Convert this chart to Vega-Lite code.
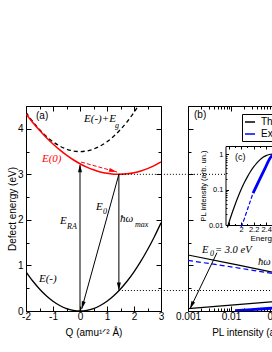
{
"$schema": "https://vega.github.io/schema/vega-lite/v6.json",
"padding": {"left": 6, "top": 100, "right": 0, "bottom": 0},
"bounds": "flush",
"spacing": 27,
"config": {
 "view": {"stroke": "black", "strokeWidth": 1},
 "axis": {"grid": false, "domain": false, "labelFont": "Liberation Sans", "labelFontSize": 10, "labelColor": "black", "titleFont": "Liberation Sans", "titleFontSize": 10, "titleFontWeight": "normal", "titleColor": "black", "tickColor": "black", "tickWidth": 1, "domainColor": "black", "domainWidth": 1, "labelFlush": false, "labelOverlap": false, "labelBound": false},
 "text": {"font": "Liberation Serif", "fontStyle": "italic", "fontSize": 11, "align": "left", "baseline": "middle", "color": "black"}
},
"datasets": {
 "Eminus": [{"Q":-2,"E":0.86},{"Q":-1.75,"E":0.658},{"Q":-1.5,"E":0.484},{"Q":-1.25,"E":0.336},{"Q":-1,"E":0.215},{"Q":-0.75,"E":0.121},{"Q":-0.5,"E":0.054},{"Q":-0.25,"E":0.013},{"Q":0,"E":0},{"Q":0.25,"E":0.013},{"Q":0.5,"E":0.054},{"Q":0.75,"E":0.121},{"Q":1,"E":0.215},{"Q":1.25,"E":0.336},{"Q":1.5,"E":0.484},{"Q":1.75,"E":0.658},{"Q":2,"E":0.86},{"Q":2.25,"E":1.088},{"Q":2.5,"E":1.344},{"Q":2.75,"E":1.626},{"Q":3,"E":1.935}],
 "Ezero": [{"Q":-2,"E":4.325},{"Q":-1.75,"E":4.14},{"Q":-1.5,"E":3.968},{"Q":-1.25,"E":3.81},{"Q":-1,"E":3.667},{"Q":-0.75,"E":3.537},{"Q":-0.5,"E":3.422},{"Q":-0.25,"E":3.32},{"Q":0,"E":3.232},{"Q":0.25,"E":3.159},{"Q":0.5,"E":3.099},{"Q":0.75,"E":3.053},{"Q":1,"E":3.022},{"Q":1.25,"E":3.004},{"Q":1.44,"E":3.0},{"Q":1.75,"E":3.011},{"Q":2,"E":3.035},{"Q":2.25,"E":3.073},{"Q":2.5,"E":3.126},{"Q":2.75,"E":3.192},{"Q":3,"E":3.273}],
 "EminusEg": [{"Q":-2,"E":4.36},{"Q":-1.75,"E":4.158},{"Q":-1.5,"E":3.984},{"Q":-1.25,"E":3.836},{"Q":-1,"E":3.715},{"Q":-0.75,"E":3.621},{"Q":-0.5,"E":3.554},{"Q":-0.25,"E":3.513},{"Q":0,"E":3.5},{"Q":0.25,"E":3.513},{"Q":0.5,"E":3.554},{"Q":0.75,"E":3.621},{"Q":1,"E":3.715},{"Q":1.25,"E":3.836},{"Q":1.5,"E":3.984},{"Q":1.75,"E":4.158},{"Q":2,"E":4.36},{"Q":2.25,"E":4.588}],
 "dottedA": [{"level":"E0","Q":1.44,"E":3.0},{"level":"E0","Q":4,"E":3.0},{"level":"low","Q":1.44,"E":0.45},{"level":"low","Q":4,"E":0.45}],
 "arrowsA": [{"arrow":"ERA","Q":0,"E":0},{"arrow":"ERA","Q":0,"E":3.2},{"arrow":"E0","Q":1.44,"E":3.0},{"arrow":"E0","Q":0.06,"E":0.04},{"arrow":"hw","Q":1.44,"E":3.0},{"arrow":"hw","Q":1.44,"E":0.47}],
 "redArrow": [{"Q":0.04,"E":3.27},{"Q":1.37,"E":3.05}],
 "headsA": [{"head":"ERA","Q":0,"E":3.22},{"head":"E0","Q":0.06,"E":0.04},{"head":"hw","Q":1.44,"E":0.45},{"head":"red","Q":1.37,"E":3.05}],
 "textA": [{"label":"E(-)+E","Q":0.15,"E":4.21},{"label":"E(-)","Q":-1.52,"E":0.70},{"label":"E","Q":-0.74,"E":1.98},{"label":"E","Q":0.59,"E":2.29},{"label":"ħω","Q":1.48,"E":2.03}],
 "subA": [{"label":"g","Q":1.30,"E":4.06},{"label":"RA","Q":-0.48,"E":1.85},{"label":"0","Q":0.85,"E":2.18},{"label":"max","Q":2.04,"E":1.89}],
 "redTextA": [{"label":"E(0)","Q":-1.41,"E":3.33}],
 "panelA": [{"label":"(a)","Q":-1.63,"E":4.27}],
 "spectraB": [
  {"series":"Theory","part":"up","I":0.001,"E":1.23},{"series":"Theory","part":"up","I":0.01,"E":1.04},{"series":"Theory","part":"up","I":0.085,"E":0.86},{"series":"Theory","part":"up","I":0.3,"E":0.75},
  {"series":"Theory","part":"low","I":0.001,"E":0.05},{"series":"Theory","part":"low","I":0.01,"E":0.13},{"series":"Theory","part":"low","I":0.085,"E":0.2},{"series":"Theory","part":"low","I":0.3,"E":0.24}],
 "expDashB": [{"series":"Experiment","I":0.001,"E":1.11},{"series":"Experiment","I":0.01,"E":0.97},{"series":"Experiment","I":0.085,"E":0.83},{"series":"Experiment","I":0.3,"E":0.75}],
 "expThickB": [{"series":"Experiment","I":0.0124,"E":0.007},{"series":"Experiment","I":0.03,"E":0.03},{"series":"Experiment","I":0.085,"E":0.06},{"series":"Experiment","I":0.3,"E":0.09}],
 "dottedB": [{"level":"E0","I":0.001,"E":3.0},{"level":"E0","I":0.0074,"E":3.0},{"level":"low","I":0.001,"E":0.45},{"level":"low","I":2,"E":0.45}],
 "arrowB": [{"I":0.00472,"E":1.28},{"I":0.00111,"E":0.044}],
 "headB": [{"I":0.00111,"E":0.044}],
 "textB": [{"label":"E","I":0.00212,"E":1.35},{"label":"= 3.0 eV","I":0.00425,"E":1.35},{"label":"ħω","I":0.0425,"E":1.08}],
 "subB": [{"label":"0","I":0.00325,"E":1.25},{"label":"max","I":0.095,"E":0.97}],
 "panelB": [{"label":"(b)","I":0.00138,"E":4.3}],
 "theoryC": [{"En":1.78,"PL":0.0085},{"En":1.8,"PL":0.011},{"En":1.85,"PL":0.0204},{"En":1.9,"PL":0.0363},{"En":1.95,"PL":0.0617},{"En":2.0,"PL":0.1},{"En":2.05,"PL":0.155},{"En":2.1,"PL":0.229},{"En":2.15,"PL":0.324},{"En":2.2,"PL":0.437},{"En":2.25,"PL":0.562},{"En":2.3,"PL":0.692},{"En":2.35,"PL":0.813},{"En":2.4,"PL":0.912},{"En":2.45,"PL":0.977},{"En":2.5,"PL":1},{"En":2.55,"PL":0.977},{"En":2.6,"PL":0.912},{"En":2.7,"PL":0.692},{"En":2.8,"PL":0.437},{"En":2.9,"PL":0.229}],
 "expDashC": [{"En":2.0,"PL":0.0088},{"En":2.014,"PL":0.01},{"En":2.1,"PL":0.027},{"En":2.19,"PL":0.079}],
 "expSolidC": [{"En":2.19,"PL":0.079},{"En":2.3,"PL":0.2},{"En":2.38,"PL":0.39},{"En":2.462,"PL":0.77},{"En":2.52,"PL":0.98},{"En":2.6,"PL":1.1}],
 "panelC": [{"label":"(c)","En":1.902,"PL":0.82}]
},
"hconcat": [
 {
  "width": 135, "height": 205,
  "resolve": {"axis": {"x": "independent", "y": "independent"}},
  "layer": [
   {"data": {"name": "Eminus"}, "mark": {"type": "line", "color": "black", "strokeWidth": 1.3, "clip": true, "interpolate": "monotone"},
    "encoding": {
     "x": {"field": "Q", "type": "quantitative", "scale": {"domain": [-2, 3], "nice": false, "zero": false},
      "axis": {"orient": "bottom", "title": "Q (amu¹ᐟ² Å)", "values": [-2,-1.5,-1,-0.5,0,0.5,1,1.5,2,2.5,3], "format": "~g", "labelExpr": "datum.value % 1 === 0 ? replace(datum.label, '−', '-') : ''", "tickSize": {"condition": {"test": "datum.value % 1 === 0", "value": -5}, "value": -3}, "labelPadding": 5, "titlePadding": 4}},
     "y": {"field": "E", "type": "quantitative", "scale": {"domain": [0, 4.5], "nice": false, "zero": false},
      "axis": {"orient": "left", "title": "Defect energy (eV)", "values": [0,0.5,1,1.5,2,2.5,3,3.5,4,4.5], "format": "~g", "labelExpr": "datum.value % 1 === 0 ? datum.label : ''", "tickSize": {"condition": {"test": "datum.value % 1 === 0", "value": -5}, "value": -3}, "labelPadding": 8, "titlePadding": 0}}
    }},
   {"data": {"name": "EminusEg"}, "mark": {"type": "line", "color": "black", "strokeWidth": 1.3, "strokeDash": [4, 3], "clip": true, "interpolate": "monotone"},
    "encoding": {
     "x": {"field": "Q", "type": "quantitative", "scale": {"domain": [-2, 3], "nice": false, "zero": false}, "axis": null},
     "y": {"field": "E", "type": "quantitative", "scale": {"domain": [0, 4.5], "nice": false, "zero": false}, "axis": null}}},
   {"data": {"name": "Ezero"}, "mark": {"type": "line", "color": "#ff0000", "strokeWidth": 1.5, "clip": true, "interpolate": "monotone"},
    "encoding": {
     "x": {"field": "Q", "type": "quantitative", "scale": {"domain": [-2, 3], "nice": false, "zero": false},
      "axis": {"orient": "top", "title": null, "labels": false, "values": [-2,-1.5,-1,-0.5,0,0.5,1,1.5,2,2.5,3], "tickSize": {"condition": {"test": "datum.value % 1 === 0", "value": -5}, "value": -3}}},
     "y": {"field": "E", "type": "quantitative", "scale": {"domain": [0, 4.5], "nice": false, "zero": false},
      "axis": {"orient": "right", "title": null, "labels": false, "values": [0,0.5,1,1.5,2,2.5,3,3.5,4,4.5], "tickSize": {"condition": {"test": "datum.value % 1 === 0", "value": -5}, "value": -3}}}}},
   {"data": {"name": "dottedA"}, "mark": {"type": "line", "color": "black", "strokeWidth": 1, "strokeDash": [1, 2], "clip": false},
    "encoding": {
     "x": {"field": "Q", "type": "quantitative", "scale": {"domain": [-2, 3], "nice": false, "zero": false}, "axis": null},
     "y": {"field": "E", "type": "quantitative", "scale": {"domain": [0, 4.5], "nice": false, "zero": false}, "axis": null},
     "detail": {"field": "level"}}},
   {"data": {"name": "arrowsA"}, "mark": {"type": "line", "color": "black", "strokeWidth": 1},
    "encoding": {
     "x": {"field": "Q", "type": "quantitative", "scale": {"domain": [-2, 3], "nice": false, "zero": false}, "axis": null},
     "y": {"field": "E", "type": "quantitative", "scale": {"domain": [0, 4.5], "nice": false, "zero": false}, "axis": null},
     "detail": {"field": "arrow"}}},
   {"data": {"name": "redArrow"}, "mark": {"type": "line", "color": "#ff0000", "strokeWidth": 1, "strokeDash": [4, 2]},
    "encoding": {
     "x": {"field": "Q", "type": "quantitative", "scale": {"domain": [-2, 3], "nice": false, "zero": false}, "axis": null},
     "y": {"field": "E", "type": "quantitative", "scale": {"domain": [0, 4.5], "nice": false, "zero": false}, "axis": null}}},
   {"data": {"name": "headsA"}, "transform": [{"filter": "datum.head === 'ERA'"}],
    "mark": {"type": "point", "shape": "M0,0L-0.5,2L0.5,2Z", "filled": true, "size": 64, "angle": 0, "color": "black", "opacity": 1, "strokeWidth": 0},
    "encoding": {
     "x": {"field": "Q", "type": "quantitative", "scale": {"domain": [-2, 3], "nice": false, "zero": false}, "axis": null},
     "y": {"field": "E", "type": "quantitative", "scale": {"domain": [0, 4.5], "nice": false, "zero": false}, "axis": null}}},
   {"data": {"name": "headsA"}, "transform": [{"filter": "datum.head === 'E0'"}],
    "mark": {"type": "point", "shape": "M0,0L-0.5,2L0.5,2Z", "filled": true, "size": 64, "angle": 195.5, "color": "black", "opacity": 1, "strokeWidth": 0},
    "encoding": {
     "x": {"field": "Q", "type": "quantitative", "scale": {"domain": [-2, 3], "nice": false, "zero": false}, "axis": null},
     "y": {"field": "E", "type": "quantitative", "scale": {"domain": [0, 4.5], "nice": false, "zero": false}, "axis": null}}},
   {"data": {"name": "headsA"}, "transform": [{"filter": "datum.head === 'hw'"}],
    "mark": {"type": "point", "shape": "M0,0L-0.5,2L0.5,2Z", "filled": true, "size": 64, "angle": 180, "color": "black", "opacity": 1, "strokeWidth": 0},
    "encoding": {
     "x": {"field": "Q", "type": "quantitative", "scale": {"domain": [-2, 3], "nice": false, "zero": false}, "axis": null},
     "y": {"field": "E", "type": "quantitative", "scale": {"domain": [0, 4.5], "nice": false, "zero": false}, "axis": null}}},
   {"data": {"name": "headsA"}, "transform": [{"filter": "datum.head === 'red'"}],
    "mark": {"type": "point", "shape": "M0,0L-0.5,2L0.5,2Z", "filled": true, "size": 64, "angle": 105.5, "color": "#ff0000", "opacity": 1, "strokeWidth": 0},
    "encoding": {
     "x": {"field": "Q", "type": "quantitative", "scale": {"domain": [-2, 3], "nice": false, "zero": false}, "axis": null},
     "y": {"field": "E", "type": "quantitative", "scale": {"domain": [0, 4.5], "nice": false, "zero": false}, "axis": null}}},
   {"data": {"name": "textA"}, "mark": {"type": "text"},
    "encoding": {
     "x": {"field": "Q", "type": "quantitative", "scale": {"domain": [-2, 3], "nice": false, "zero": false}, "axis": null},
     "y": {"field": "E", "type": "quantitative", "scale": {"domain": [0, 4.5], "nice": false, "zero": false}, "axis": null},
     "text": {"field": "label"}}},
   {"data": {"name": "subA"}, "mark": {"type": "text", "fontSize": 8},
    "encoding": {
     "x": {"field": "Q", "type": "quantitative", "scale": {"domain": [-2, 3], "nice": false, "zero": false}, "axis": null},
     "y": {"field": "E", "type": "quantitative", "scale": {"domain": [0, 4.5], "nice": false, "zero": false}, "axis": null},
     "text": {"field": "label"}}},
   {"data": {"name": "redTextA"}, "mark": {"type": "text", "color": "#ff0000"},
    "encoding": {
     "x": {"field": "Q", "type": "quantitative", "scale": {"domain": [-2, 3], "nice": false, "zero": false}, "axis": null},
     "y": {"field": "E", "type": "quantitative", "scale": {"domain": [0, 4.5], "nice": false, "zero": false}, "axis": null},
     "text": {"field": "label"}}},
   {"data": {"name": "panelA"}, "mark": {"type": "text", "font": "Liberation Sans", "fontStyle": "normal", "fontSize": 10},
    "encoding": {
     "x": {"field": "Q", "type": "quantitative", "scale": {"domain": [-2, 3], "nice": false, "zero": false}, "axis": null},
     "y": {"field": "E", "type": "quantitative", "scale": {"domain": [0, 4.5], "nice": false, "zero": false}, "axis": null},
     "text": {"field": "label"}}}
  ]
 },
 {
  "width": 142, "height": 205,
  "resolve": {"scale": {"x": "independent", "y": "independent"}, "axis": {"x": "independent", "y": "independent"}},
  "layer": [
   {
    "resolve": {"axis": {"x": "independent", "y": "independent"}},
    "layer": [
     {"data": {"name": "dottedB"}, "mark": {"type": "line", "color": "black", "strokeWidth": 1, "strokeDash": [1, 2], "clip": true},
      "encoding": {
       "x": {"field": "I", "type": "quantitative", "scale": {"type": "log", "domain": [0.001, 2], "nice": false},
        "axis": {"orient": "top", "title": null, "labels": false, "values": [0.001,0.002,0.003,0.004,0.005,0.006,0.007,0.008,0.009,0.01,0.02,0.03,0.04,0.05,0.06,0.07,0.08,0.09,0.1,0.2,0.3,0.4,0.5,0.6,0.7,0.8,0.9,1,2], "tickSize": {"condition": {"test": "abs(log(datum.value)/LN10 - round(log(datum.value)/LN10)) < 0.001", "value": -5}, "value": -3}}},
       "y": {"field": "E", "type": "quantitative", "scale": {"domain": [0, 4.5], "nice": false, "zero": false},
        "axis": {"orient": "left", "title": null, "labels": false, "values": [0,0.5,1,1.5,2,2.5,3,3.5,4,4.5], "tickSize": {"condition": {"test": "datum.value % 1 === 0", "value": -5}, "value": -3}}},
       "detail": {"field": "level"}}},
     {"data": {"name": "spectraB"}, "mark": {"type": "line", "strokeWidth": 1.2, "clip": true, "interpolate": "monotone"},
      "encoding": {
       "x": {"field": "I", "type": "quantitative", "scale": {"type": "log", "domain": [0.001, 2], "nice": false},
        "axis": {"orient": "bottom", "title": "PL intensity (arb. un.)", "values": [0.001,0.002,0.003,0.004,0.005,0.006,0.007,0.008,0.009,0.01,0.02,0.03,0.04,0.05,0.06,0.07,0.08,0.09,0.1,0.2,0.3,0.4,0.5,0.6,0.7,0.8,0.9,1,2], "format": "~g", "labelExpr": "abs(log(datum.value)/LN10 - round(log(datum.value)/LN10)) < 0.001 ? datum.label : ''", "tickSize": {"condition": {"test": "abs(log(datum.value)/LN10 - round(log(datum.value)/LN10)) < 0.001", "value": -5}, "value": -3}, "labelPadding": 5, "titlePadding": 4}},
       "y": {"field": "E", "type": "quantitative", "scale": {"domain": [0, 4.5], "nice": false, "zero": false}, "axis": null},
       "color": {"field": "series", "type": "nominal", "scale": {"domain": ["Theory", "Experiment"], "range": ["black", "#0000ff"]},
        "legend": {"title": null, "orient": "none", "legendX": 216, "legendY": 8, "strokeColor": "black", "fillColor": "white", "padding": 2, "symbolType": "stroke", "symbolSize": 100, "symbolStrokeWidth": 1.5, "labelFont": "Liberation Sans", "labelFontSize": 10, "labelColor": "black", "rowPadding": 1, "labelOffset": 5, "cornerRadius": 0}},
       "detail": {"field": "part"}}},
     {"data": {"name": "expDashB"}, "mark": {"type": "line", "strokeWidth": 1.2, "strokeDash": [5, 3], "clip": true, "interpolate": "monotone"},
      "encoding": {
       "x": {"field": "I", "type": "quantitative", "scale": {"type": "log", "domain": [0.001, 2], "nice": false}, "axis": null},
       "y": {"field": "E", "type": "quantitative", "scale": {"domain": [0, 4.5], "nice": false, "zero": false}, "axis": null},
       "color": {"field": "series", "type": "nominal", "scale": {"domain": ["Theory", "Experiment"], "range": ["black", "#0000ff"]}}}},
     {"data": {"name": "expThickB"}, "mark": {"type": "line", "strokeWidth": 2.8, "clip": true, "interpolate": "monotone"},
      "encoding": {
       "x": {"field": "I", "type": "quantitative", "scale": {"type": "log", "domain": [0.001, 2], "nice": false}, "axis": null},
       "y": {"field": "E", "type": "quantitative", "scale": {"domain": [0, 4.5], "nice": false, "zero": false}, "axis": null},
       "color": {"field": "series", "type": "nominal", "scale": {"domain": ["Theory", "Experiment"], "range": ["black", "#0000ff"]}}}},
     {"data": {"name": "arrowB"}, "mark": {"type": "line", "color": "black", "strokeWidth": 1},
      "encoding": {
       "x": {"field": "I", "type": "quantitative", "scale": {"type": "log", "domain": [0.001, 2], "nice": false}, "axis": null},
       "y": {"field": "E", "type": "quantitative", "scale": {"domain": [0, 4.5], "nice": false, "zero": false}, "axis": null}}},
     {"data": {"name": "headB"}, "mark": {"type": "point", "shape": "M0,0L-0.5,2L0.5,2Z", "filled": true, "size": 64, "angle": 204.5, "color": "black", "opacity": 1, "strokeWidth": 0},
      "encoding": {
       "x": {"field": "I", "type": "quantitative", "scale": {"type": "log", "domain": [0.001, 2], "nice": false}, "axis": null},
       "y": {"field": "E", "type": "quantitative", "scale": {"domain": [0, 4.5], "nice": false, "zero": false}, "axis": null}}},
     {"data": {"name": "textB"}, "mark": {"type": "text", "fontSize": 10.5},
      "encoding": {
       "x": {"field": "I", "type": "quantitative", "scale": {"type": "log", "domain": [0.001, 2], "nice": false}, "axis": null},
       "y": {"field": "E", "type": "quantitative", "scale": {"domain": [0, 4.5], "nice": false, "zero": false}, "axis": null},
       "text": {"field": "label"}}},
     {"data": {"name": "subB"}, "mark": {"type": "text", "fontSize": 8},
      "encoding": {
       "x": {"field": "I", "type": "quantitative", "scale": {"type": "log", "domain": [0.001, 2], "nice": false}, "axis": null},
       "y": {"field": "E", "type": "quantitative", "scale": {"domain": [0, 4.5], "nice": false, "zero": false}, "axis": null},
       "text": {"field": "label"}}},
     {"data": {"name": "panelB"}, "mark": {"type": "text", "font": "Liberation Sans", "fontStyle": "normal", "fontSize": 10},
      "encoding": {
       "x": {"field": "I", "type": "quantitative", "scale": {"type": "log", "domain": [0.001, 2], "nice": false}, "axis": null},
       "y": {"field": "E", "type": "quantitative", "scale": {"domain": [0, 4.5], "nice": false, "zero": false}, "axis": null},
       "text": {"field": "label"}}}
    ]
   },
   {
    "resolve": {"axis": {"x": "independent", "y": "independent"}},
    "layer": [
     {"data": {"name": "theoryC"}, "mark": {"type": "line", "color": "black", "strokeWidth": 1.2, "clip": true, "interpolate": "monotone"},
      "encoding": {
       "x": {"field": "En", "type": "quantitative", "scale": {"domain": [1.75, 2.822], "range": [37.5, 104.5], "nice": false, "zero": false},
        "axis": {"orient": "bottom", "offset": -86, "domain": true, "title": "Energy (eV)", "titleFontSize": 8, "titleAnchor": "start", "titleAlign": "left", "titleX": 62, "labelFontSize": 7.5, "values": [1.8,1.9,2.0,2.1,2.2,2.3,2.4,2.5,2.6,2.7,2.8], "format": "~g", "labelExpr": "datum.value > 1.95 && abs(datum.value*5 - round(datum.value*5)) < 0.01 ? datum.label : ''", "tickSize": {"condition": {"test": "abs(datum.value*5 - round(datum.value*5)) < 0.01", "value": -3}, "value": -1.5}, "labelPadding": 3.5, "titlePadding": 0}},
       "y": {"field": "PL", "type": "quantitative", "scale": {"type": "log", "domain": [0.01, 1.7], "range": [119, 40], "nice": false},
        "axis": {"orient": "left", "offset": -37.5, "domain": true, "title": "PL intensity (arb. un.)", "titleFontSize": 7.5, "titleX": -22.5, "titleBaseline": "middle", "labelFontSize": 7.5, "values": [0.01,0.02,0.03,0.04,0.05,0.06,0.07,0.08,0.09,0.1,0.2,0.3,0.4,0.5,0.6,0.7,0.8,0.9,1], "format": "~g", "labelExpr": "abs(log(datum.value)/LN10 - round(log(datum.value)/LN10)) < 0.001 ? datum.label : ''", "tickSize": {"condition": {"test": "abs(log(datum.value)/LN10 - round(log(datum.value)/LN10)) < 0.001", "value": -3}, "value": -1.5}, "labelPadding": 5.5, "titlePadding": 1}}}},
     {"data": {"name": "expDashC"}, "mark": {"type": "line", "color": "#0000ff", "strokeWidth": 1.2, "strokeDash": [4, 2], "clip": true, "interpolate": "monotone"},
      "encoding": {
       "x": {"field": "En", "type": "quantitative", "scale": {"domain": [1.75, 2.822], "range": [37.5, 104.5], "nice": false, "zero": false},
        "axis": {"orient": "top", "offset": -40, "domain": true, "title": null, "labels": false, "values": [1.8,1.9,2.0,2.1,2.2,2.3,2.4,2.5,2.6,2.7,2.8], "tickSize": {"condition": {"test": "abs(datum.value*5 - round(datum.value*5)) < 0.01", "value": -3}, "value": -1.5}}},
       "y": {"field": "PL", "type": "quantitative", "scale": {"type": "log", "domain": [0.01, 1.7], "range": [119, 40], "nice": false},
        "axis": {"orient": "right", "offset": -37.5, "domain": true, "title": null, "labels": false, "values": [0.01,0.1,1], "tickSize": -3}}}},
     {"data": {"name": "expSolidC"}, "mark": {"type": "line", "color": "#0000ff", "strokeWidth": 2.8, "clip": true, "interpolate": "monotone"},
      "encoding": {
       "x": {"field": "En", "type": "quantitative", "scale": {"domain": [1.75, 2.822], "range": [37.5, 104.5], "nice": false, "zero": false}, "axis": null},
       "y": {"field": "PL", "type": "quantitative", "scale": {"type": "log", "domain": [0.01, 1.7], "range": [119, 40], "nice": false}, "axis": null}}},
     {"data": {"name": "panelC"}, "mark": {"type": "text", "font": "Liberation Sans", "fontStyle": "normal", "fontSize": 9},
      "encoding": {
       "x": {"field": "En", "type": "quantitative", "scale": {"domain": [1.75, 2.822], "range": [37.5, 104.5], "nice": false, "zero": false}, "axis": null},
       "y": {"field": "PL", "type": "quantitative", "scale": {"type": "log", "domain": [0.01, 1.7], "range": [119, 40], "nice": false}, "axis": null},
       "text": {"field": "label"}}}
    ]
   }
  ]
 }
]
}
